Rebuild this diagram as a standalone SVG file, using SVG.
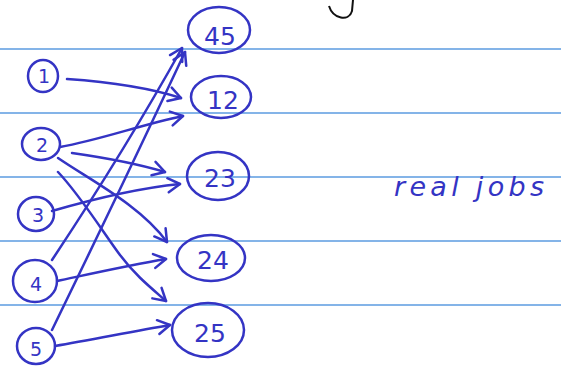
<svg xmlns="http://www.w3.org/2000/svg" width="561" height="366" viewBox="0 0 561 366">
<style>
.rule{stroke:#5b9be0;stroke-width:1.5}
.ink{fill:none;stroke:#3434c4;stroke-width:2.5;stroke-linecap:round;stroke-linejoin:round}
.lbl{font-family:"DejaVu Sans",sans-serif;fill:#3434c4;text-anchor:middle}
.big{font-size:25px}
.small{font-size:19px}
</style>
<defs>
<marker id="ah" markerUnits="userSpaceOnUse" markerWidth="20" markerHeight="20" refX="0" refY="0" viewBox="-14 -10 16 20" orient="auto" overflow="visible">
<path d="M -12 -7 L 0 0 L -12 7" fill="none" stroke="#3434c4" stroke-width="2.5" stroke-linecap="round" stroke-linejoin="round"/>
</marker>
</defs>
<rect width="561" height="366" fill="#ffffff"/>
<g id="rules">
<line class="rule" x1="0" y1="49" x2="561" y2="49"/>
<line class="rule" x1="0" y1="113" x2="561" y2="113"/>
<line class="rule" x1="0" y1="177" x2="561" y2="177"/>
<line class="rule" x1="0" y1="241" x2="561" y2="241"/>
<line class="rule" x1="0" y1="305" x2="561" y2="305"/>
</g>
<path d="M 329 6 C 333 19, 349 22, 352 11 L 353 0" fill="none" stroke="#111" stroke-width="2"/>
<g id="connectors">
<path class="ink" marker-end="url(#ah)" d="M 67 79 C 110 82, 150 88, 181 98"/>
<path class="ink" marker-end="url(#ah)" d="M 60 147 C 100 140, 140 125, 183 116"/>
<path class="ink" marker-end="url(#ah)" d="M 72 153 C 100 157, 135 163, 165 172"/>
<path class="ink" marker-end="url(#ah)" d="M 52 211 C 90 200, 140 188, 180 184"/>
<path class="ink" marker-end="url(#ah)" d="M 58 158 C 90 180, 140 205, 167 242"/>
<path class="ink" marker-end="url(#ah)" d="M 58 172 C 80 195, 105 235, 120 255 C 135 275, 150 287, 166 301"/>
<path class="ink" marker-end="url(#ah)" d="M 52 260 Q 125 150 182 48"/>
<path class="ink" marker-end="url(#ah)" d="M 52 330 Q 125 180 185 52"/>
<path class="ink" marker-end="url(#ah)" d="M 57 281 C 90 274, 130 265, 166 259"/>
<path class="ink" marker-end="url(#ah)" d="M 55 346 C 90 340, 130 332, 170 325"/>
</g>
<g id="n1"><ellipse class="ink" cx="43" cy="76" rx="15" ry="16"/><text class="lbl small" x="44" y="83">1</text></g>
<g id="n2"><ellipse class="ink" cx="41" cy="144" rx="19" ry="16"/><text class="lbl small" x="42" y="152">2</text></g>
<g id="n3"><ellipse class="ink" cx="36" cy="214" rx="18" ry="17"/><text class="lbl small" x="38" y="222">3</text></g>
<g id="n4"><ellipse class="ink" cx="35" cy="281" rx="22" ry="21"/><text class="lbl small" x="36" y="291">4</text></g>
<g id="n5"><ellipse class="ink" cx="36" cy="346" rx="19" ry="18"/><text class="lbl small" x="36" y="356">5</text></g>
<g id="n45"><ellipse class="ink" cx="219" cy="30" rx="31" ry="23"/><text class="lbl big" x="220" y="45">45</text></g>
<g id="n12"><ellipse class="ink" cx="221" cy="97" rx="30" ry="21"/><text class="lbl big" x="223" y="109">12</text></g>
<g id="n23"><ellipse class="ink" cx="218" cy="176" rx="31" ry="24"/><text class="lbl big" x="220" y="187">23</text></g>
<g id="n24"><ellipse class="ink" cx="211" cy="258" rx="34" ry="23"/><text class="lbl big" x="213" y="269">24</text></g>
<g id="n25"><ellipse class="ink" cx="208" cy="330" rx="36" ry="27"/><text class="lbl big" x="210" y="342">25</text></g>
<text x="394" y="196" font-family="'DejaVu Sans',sans-serif" font-size="27" font-style="italic" fill="#3434c4" textLength="150" lengthAdjust="spacing">real jobs</text>
</svg>
